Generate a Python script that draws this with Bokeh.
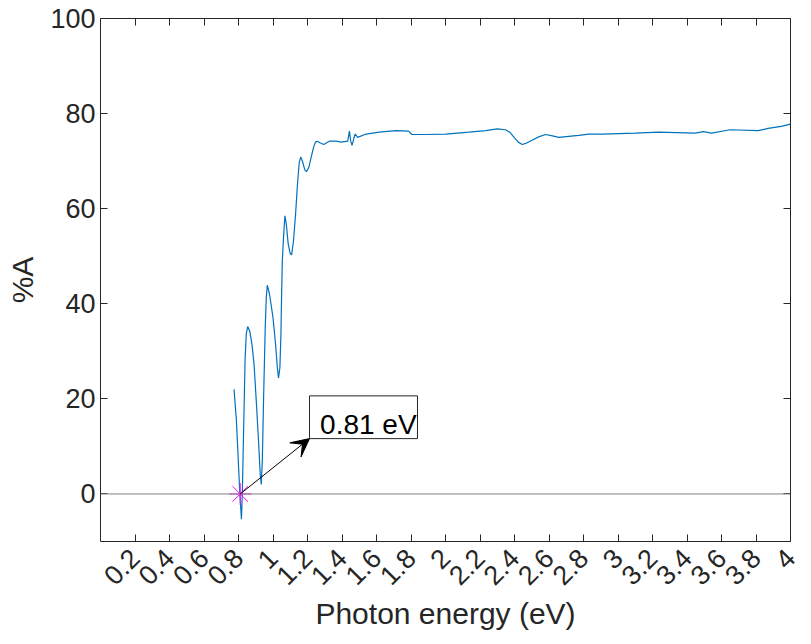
import math
from bokeh.plotting import figure
from bokeh.models import (Range1d, FixedTicker, LinearAxis, Span, Arrow, VeeHead,
                          BoxAnnotation, Label, CustomJSTickFormatter, CustomLabelingPolicy)
from bokeh.embed import file_html
from bokeh.resources import INLINE

# ---- data ----
energy = [0.774, 0.788, 0.797, 0.807, 0.817, 0.822, 0.830, 0.838, 0.845, 0.853,
          0.865, 0.878, 0.890, 0.903, 0.917, 0.926, 0.932, 0.938, 0.946, 0.955,
          0.961, 0.967, 0.980, 1.000, 1.015, 1.025, 1.032, 1.040, 1.046, 1.050,
          1.054, 1.061, 1.069, 1.077, 1.088, 1.100, 1.108, 1.119, 1.131, 1.142,
          1.152, 1.161, 1.173, 1.185, 1.194, 1.208, 1.221, 1.235, 1.246, 1.256,
          1.275, 1.294, 1.327, 1.366, 1.395, 1.433, 1.443, 1.450, 1.458, 1.468,
          1.476, 1.491, 1.539, 1.616, 1.713, 1.786, 1.805, 1.886, 2.002, 2.136,
          2.233, 2.300, 2.348, 2.375, 2.400, 2.422, 2.445, 2.470, 2.502, 2.540,
          2.580, 2.620, 2.657, 2.772, 2.830,
          2.907, 3.100, 3.235, 3.447, 3.495, 3.543, 3.649, 3.813, 3.870, 3.947,
          4.000]
absorb = [22.0, 15.4, 8.4, 0.6, -5.3, -0.1, 14.0, 28.0, 33.6, 35.2,
          34.3, 31.5, 27.3, 19.6, 10.5, 4.1, 2.0, 6.9, 21.0, 35.0,
          41.3, 43.9, 42.0, 37.1, 31.5, 26.6, 24.4, 26.6, 33.6, 42.0,
          49.0, 54.0, 58.5, 56.8, 52.6, 50.5, 50.3, 53.3, 58.9, 65.2,
          69.7, 70.9, 69.7, 68.1, 67.8, 68.7, 70.8, 72.9, 74.0, 74.2,
          73.8, 73.5, 74.2, 74.2, 74.0, 74.2, 76.3, 74.3, 73.3, 74.7,
          75.7, 75.0, 75.7, 76.1, 76.4, 76.3, 75.6, 75.6, 75.7, 76.1,
          76.4, 76.8, 76.6, 76.0, 74.9, 74.0, 73.5, 73.8, 74.4, 75.1,
          75.6, 75.3, 75.0, 75.4, 75.7,
          75.7, 75.9, 76.1, 75.9, 76.2, 75.9, 76.6, 76.4, 76.9, 77.3,
          77.8]
gap_energy = [0.81]
gap_absorb = [0.0]
gap_text = "0.81 eV"

x_ticks = [0.2, 0.4, 0.6, 0.8, 1.0, 1.2, 1.4, 1.6, 1.8, 2.0,
           2.2, 2.4, 2.6, 2.8, 3.0, 3.2, 3.4, 3.6, 3.8, 4.0]
x_tick_labels = ["0.2", "0.4", "0.6", "0.8", "1", "1.2", "1.4", "1.6", "1.8", "2",
                 "2.2", "2.4", "2.6", "2.8", "3", "3.2", "3.4", "3.6", "3.8", "4"]
y_ticks = [0, 20, 40, 60, 80, 100]

FONT = "Liberation Sans"
INK = "#262626"

p = figure(width=811, height=644, x_range=Range1d(0, 4), y_range=Range1d(-10, 100),
           output_backend="svg", toolbar_location=None,
           min_border_left=100, min_border_right=18, min_border_top=18, min_border_bottom=103)
p.xgrid.visible = False
p.ygrid.visible = False
p.outline_line_color = None
p.background_fill_color = "white"
p.border_fill_color = "white"

hide_all = "for (const i of indices) indices.unset(i)"

xa = p.xaxis[0]
xa.ticker = FixedTicker(ticks=x_ticks)
xa.formatter = CustomJSTickFormatter(code="return (Math.round(tick*10)/10).toString();")
xa.major_label_overrides = {t: l for t, l in zip(x_ticks, x_tick_labels)}
xa.major_label_orientation = math.pi / 4
xa.axis_label = "Photon energy (eV)"

ya = p.yaxis[0]
ya.ticker = FixedTicker(ticks=y_ticks)
ya.axis_label = "%A"

for ax in (xa, ya):
    ax.major_tick_in = 7
    ax.major_tick_out = 0
    ax.minor_tick_in = 0
    ax.minor_tick_out = 0
    ax.axis_line_color = INK
    ax.major_tick_line_color = INK
    ax.major_label_text_font = FONT
    ax.major_label_text_font_size = "27px"
    ax.major_label_text_color = INK
    ax.axis_label_text_font = FONT
    ax.axis_label_text_font_size = "30px"
    ax.axis_label_text_font_style = "normal"
    ax.axis_label_text_color = INK

ya.major_label_standoff = 5
ya.axis_label_standoff = 8
xa.major_label_standoff = 12
xa.axis_label_standoff = 1

for loc, tick_list in (("right", y_ticks), ("above", x_ticks)):
    ax = LinearAxis(ticker=FixedTicker(ticks=tick_list),
                    major_label_policy=CustomLabelingPolicy(code=hide_all),
                    major_tick_in=7, major_tick_out=0, minor_tick_in=0, minor_tick_out=0,
                    axis_line_color=INK, major_tick_line_color=INK, major_label_standoff=0)
    p.add_layout(ax, loc)

p.add_layout(Span(location=0, dimension="width", line_color="#808080", line_width=1))

p.line(energy, absorb, line_color="#0072BD", line_width=1.2)
p.scatter(gap_energy, gap_absorb, marker="asterisk", size=22, line_color="#FF00FF", line_width=1)

box_left, box_right, box_bottom, box_top = 1.2116, 1.8376, 11.64, 20.63
p.add_layout(Arrow(x_start=gap_energy[0], y_start=gap_absorb[0], x_end=box_left, y_end=box_bottom,
                   line_color="black", line_width=1,
                   end=VeeHead(size=18, fill_color="black", line_color="black")))
p.add_layout(BoxAnnotation(left=box_left, right=box_right, bottom=box_bottom, top=box_top,
                           fill_color="white", fill_alpha=1.0, line_color=INK, line_width=1,
                           line_alpha=1.0))
p.add_layout(Label(x=1.273, y=14.7, text=gap_text, text_font=FONT, text_font_size="28px",
                   text_color="black", text_baseline="alphabetic", text_align="left"))

open("out.html", "w").write(file_html(p, INLINE))
